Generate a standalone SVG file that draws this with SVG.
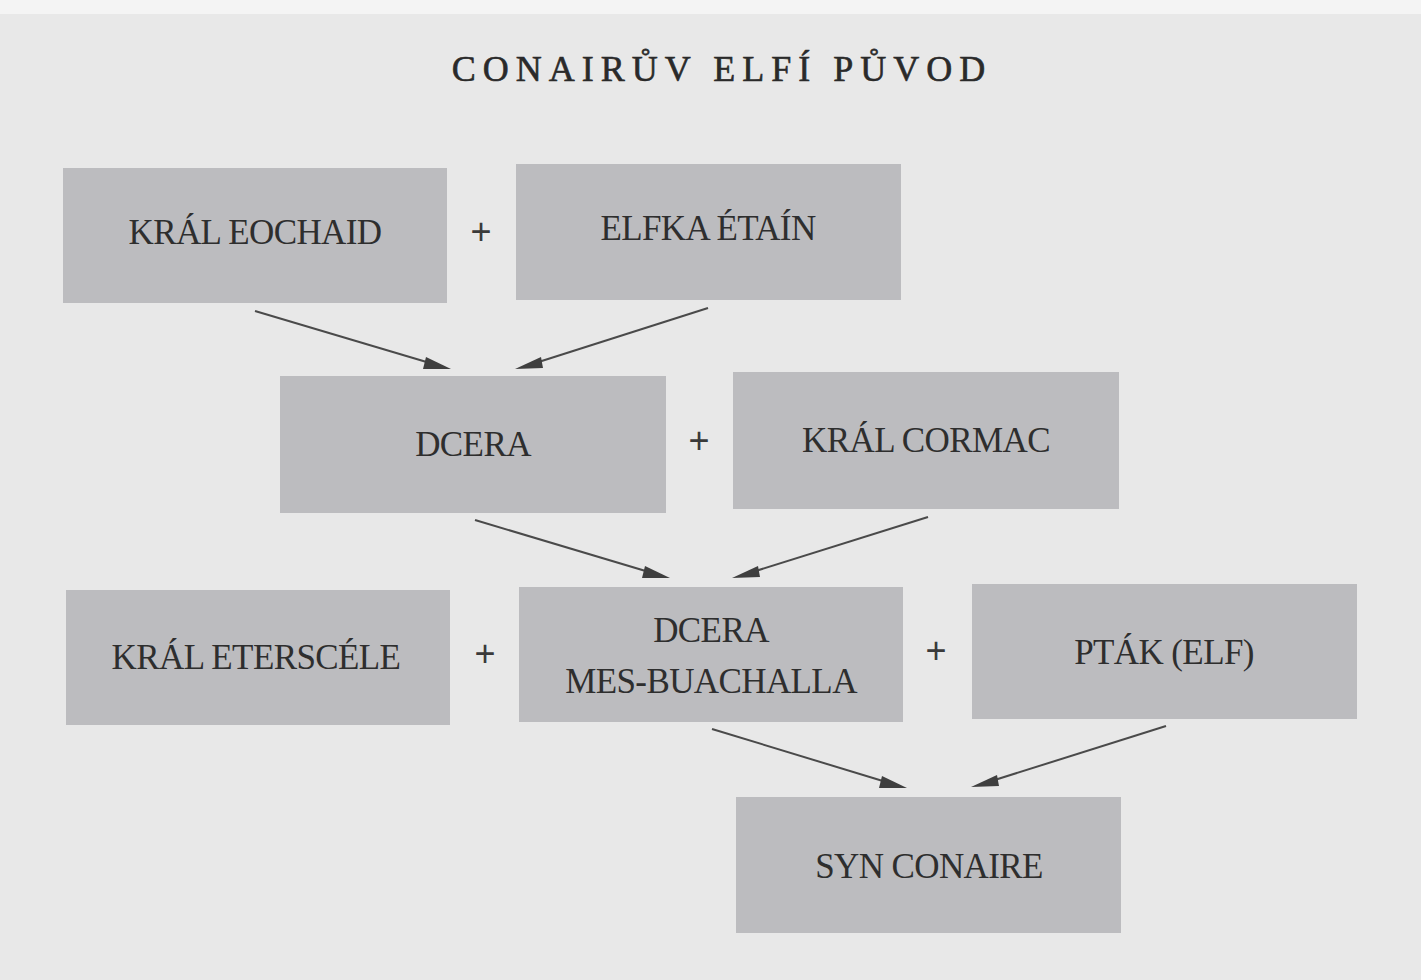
<svg xmlns="http://www.w3.org/2000/svg" width="1421" height="980" viewBox="0 0 1421 980">
<style>
.box{fill:#bcbcbf}
.lbl{font-family:"Liberation Serif","DejaVu Serif",serif;font-size:35px;fill:#2e2e2e;text-anchor:middle;letter-spacing:-0.6px}
.plus{font-family:"Liberation Sans","DejaVu Sans",sans-serif;font-size:36px;fill:#3a3a3a;text-anchor:middle}
.ln{stroke:#4a4a4a;stroke-width:2;fill:none}
.hd{fill:#3f3f3f}
</style>
<rect width="1421" height="980" fill="#e8e8e8"/>
<rect width="1421" height="14" fill="#f4f4f4"/>
<text x="722" y="81" style="font-family:'Liberation Serif','DejaVu Serif',serif;font-size:36px;fill:#2a2a2a;letter-spacing:7px;stroke:#2a2a2a;stroke-width:0.6" text-anchor="middle">CONAIRŮV ELFÍ PŮVOD</text>
<g id="n-eochaid"><rect class="box" x="63" y="168" width="384" height="135"/><text class="lbl" x="255" y="244">KRÁL EOCHAID</text></g>
<g id="n-etain"><rect class="box" x="516" y="164" width="385" height="136"/><text class="lbl" x="708" y="240">ELFKA ÉTAÍN</text></g>
<g id="n-dcera"><rect class="box" x="280" y="376" width="386" height="137"/><text class="lbl" x="473" y="456">DCERA</text></g>
<g id="n-cormac"><rect class="box" x="733" y="372" width="386" height="137"/><text class="lbl" x="926" y="452">KRÁL CORMAC</text></g>
<g id="n-eterscele"><rect class="box" x="66" y="590" width="384" height="135"/><text class="lbl" x="256" y="669">KRÁL ETERSCÉLE</text></g>
<g id="n-mesbuachalla"><rect class="box" x="519" y="587" width="384" height="135"/><text class="lbl" x="711" y="642">DCERA</text><text class="lbl" x="711" y="693">MES-BUACHALLA</text></g>
<g id="n-ptak"><rect class="box" x="972" y="584" width="385" height="135"/><text class="lbl" x="1164" y="664">PTÁK (ELF)</text></g>
<g id="n-conaire"><rect class="box" x="736" y="797" width="385" height="136"/><text class="lbl" x="929" y="878">SYN CONAIRE</text></g>
<g id="plus-signs">
<text class="plus" x="481" y="244">+</text>
<text class="plus" x="699" y="453">+</text>
<text class="plus" x="485" y="666">+</text>
<text class="plus" x="936" y="663">+</text>
</g>
<g id="connectors">
<line class="ln" x1="255" y1="311" x2="440" y2="366"/><polygon class="hd" points="451,369 426,357 423,369"/>
<line class="ln" x1="708" y1="308" x2="526" y2="366"/><polygon class="hd" points="515,369 541,357 543,368"/>
<line class="ln" x1="475" y1="520" x2="659" y2="575"/><polygon class="hd" points="670,578 645,566 642,578"/>
<line class="ln" x1="928" y1="517" x2="743" y2="575"/><polygon class="hd" points="732,578 758,566 760,577"/>
<line class="ln" x1="712" y1="729" x2="896" y2="785"/><polygon class="hd" points="907,788 882,776 879,788"/>
<line class="ln" x1="1166" y1="726" x2="982" y2="784"/><polygon class="hd" points="971,787 997,775 999,786"/>
</g>
</svg>
